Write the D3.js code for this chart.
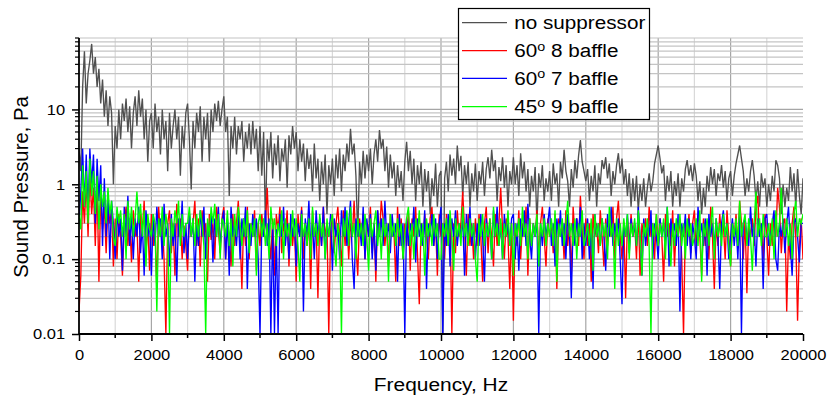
<!DOCTYPE html>
<html><head><meta charset="utf-8">
<script src="https://cdn.jsdelivr.net/npm/d3@7"></script>
<style>body{margin:0;background:#fff}svg{display:block}text{font-family:"Liberation Sans",Arial,sans-serif}</style>
</head><body><svg id="c" width="828" height="400"></svg>
<script>
const freqStep = 50; // Hz between samples
const seriesNames = ["no suppressor", "60° 8 baffle", "60° 7 baffle", "45° 9 baffle"];
const xTicks = [0,2000,4000,6000,8000,10000,12000,14000,16000,18000,20000];
const yTicks = [0.01,0.1,1,10];
const yTickLabels = ["0.01","0.1","1","10"];

const noSuppressor = [
3,1.5,20,60,12,30,45,75,30,50,20,35,12,25,8,18,6,15,9,1,
6,3,10,4,12,7,14,5,11,3,9,15,6,18,8,14,4,10,2,7,
9,3,12,5,8,2.5,10,4,7,1.5,9,3,6,10,4,8,1.3,6,3,9,
12,4,0.85,7,3,9,5,11,2,8,4,9,2,10,5,12,7,13,6,10,
15,5,8,0.7,6,3,8,2.5,6,4,7,2,5,3,6.5,2.5,7,3,5.5,1.5,
6,1.3,5,0.3,4,2,5,1.2,3.5,1.8,4.5,1.1,3,2,4,0.9,4.5,2.5,6,3,
5,1.5,4,2,3.5,1.1,3,1.6,2.5,0.8,3.5,1.2,2.2,0.6,2,1,2.5,0.4,1.8,1,
2.2,0.7,2.5,1.2,3,0.8,2.5,1.5,3.5,2,5.5,2.5,3.5,1.3,0.2,2,1,2.8,1.2,2.5,
1.5,3,1,2.5,4,2,5.3,3,4,1.5,3.2,0.9,2.5,1.2,2,0.7,1.8,0.9,1.5,0.6,
2,3.7,1.5,2.8,1,2.2,0.6,1.8,1,2,0.5,1.6,0.8,1.5,0.4,1.2,0.7,1.9,0.5,1.3,
1.5,0.01,1.2,2,0.8,2.5,1.3,2.2,1,3.3,1.5,2.4,0.7,1.8,1,2,0.5,1.4,0.8,1.9,
0.6,1.5,1,2,0.7,1.6,2.3,1.2,2.9,1.5,2.1,0.6,1.7,1.1,2.3,0.9,1.8,0.5,1.5,1,
2.3,1,1.8,0.7,2.6,1.2,2,0.8,1.6,0.5,1.3,0.8,1.7,0.3,1.4,0.9,1.8,0.6,1.2,0.8,
1.5,0.6,1.9,1,1.4,0.5,2,1.2,2.9,1.5,1.1,0.5,1.6,0.9,2.1,1.2,2.4,3.9,2,1.5,
1.1,1.6,0.6,1.3,0.8,1.8,0.5,1.4,1,2.1,1.6,2.3,1.2,1.9,0.7,1.5,1,1.8,2.6,1.4,
2.2,1,1.6,0.7,1.4,0.5,1.2,0.6,1.3,0.45,1,0.6,1.2,0.5,0.9,1.4,0.8,1.1,1.9,2.5,
3.3,2.2,1.4,1.8,0.6,1.3,0.8,1.5,0.5,1.1,0.7,1.4,0.5,1.2,0.8,1.6,2.1,1.3,1.8,1.1,
1.9,1.3,0.6,1.1,0.4,0.9,0.5,1.3,0.8,1.7,1,1.6,0.7,1.4,1.1,1.8,0.9,1.5,0.6,1.2,
1.5,0.7,1.3,1.9,2.5,3.3,2.2,1.5,0.7,1.2,0.8,1.5,2.1,1.3,0.6,1.1,0.5,1.4,0.9,1.2,
0.5,1,0.6,1.3,0.8,2.1,1.8,1.2,0.4,1,0.5,0.9,0.6,1.7,0.8,1.4,0.5,1.6,0.7,0.4,
1.2];

const baffle60x8 = [
0.02,0.06,0.8,0.3,1.2,0.2,1.5,0.4,0.9,0.15,1.1,0.05,0.7,0.25,0.5,0.12,0.6,0.3,0.45,0.08,
0.35,0.1,0.4,0.2,0.06,0.3,0.5,0.15,0.35,0.09,0.45,0.2,0.3,0.05,0.4,0.25,0.6,0.12,0.3,0.07,
0.4,0.15,0.3,0.04,0.5,0.2,0.35,0.1,0.01,0.3,0.45,0.12,0.3,0.06,0.55,0.2,0.35,0.1,0.28,0.15,
0.07,0.4,0.2,0.3,0.6,0.15,0.35,0.08,0.45,0.2,0.3,0.05,0.4,0.18,0.3,0.1,0.5,0.25,0.12,0.35,
0.5,0.1,0.3,0.2,0.08,0.4,0.15,0.3,0.6,0.2,0.04,0.35,0.15,0.5,0.1,0.3,0.2,0.45,0.07,0.3,
0.15,0.4,0.2,0.3,0.9,0.2,0.1,0.35,0.06,0.4,0.25,0.5,0.12,0.3,0.2,0.45,0.08,0.35,0.15,0.3,
0.05,0.4,0.2,0.5,0.1,0.3,0.15,0.35,0.04,0.45,0.2,0.3,0.03,0.35,0.15,0.5,0.2,0.3,0.01,0.25,
0.4,0.12,0.3,0.5,0.2,0.08,0.45,0.15,0.35,0.1,0.3,0.2,0.6,0.15,0.06,0.35,0.2,0.4,0.1,0.3,
0.2,0.5,0.12,0.3,0.05,0.45,0.2,0.6,0.35,0.15,0.3,0.08,0.4,0.2,0.25,0.05,0.5,0.15,0.35,0.1,
0.3,0.15,0.45,0.07,0.35,0.2,0.5,0.12,0.025,0.3,0.15,0.4,0.2,0.1,0.35,0.5,0.15,0.3,0.06,0.4,
0.2,0.3,0.1,0.4,0.15,0.35,0.01,0.3,0.12,0.45,0.2,0.3,0.8,0.25,0.06,0.4,0.15,0.3,0.1,0.35,
0.15,0.4,0.2,0.05,0.3,0.5,0.12,0.35,0.2,0.08,0.4,0.15,0.3,0.9,0.25,0.1,0.35,0.2,0.04,0.3,
0.015,0.3,0.15,0.45,0.1,0.3,0.2,0.5,0.06,0.35,0.15,0.3,0.2,0.45,0.1,0.3,0.5,0.2,0.08,0.35,
0.2,0.3,0.12,0.4,0.04,0.35,0.2,0.3,0.1,0.45,0.15,0.3,0.06,0.5,0.2,0.35,0.15,0.7,0.25,0.1,
0.35,0.15,0.3,0.05,0.4,0.2,0.3,0.12,0.45,0.2,0.08,0.35,0.15,0.3,0.2,0.5,0.1,0.35,0.6,0.2,
0.1,0.3,0.03,0.35,0.15,0.4,0.2,0.3,0.1,0.45,0.06,0.3,0.2,0.35,0.15,0.5,0.2,0.3,0.1,0.4,
0.15,0.35,0.2,0.05,0.4,0.2,0.3,0.15,0.45,0.08,0.3,0.2,0.35,0.1,0.01,0.3,0.2,0.4,0.12,0.3,
0.45,0.15,0.3,0.2,0.06,0.35,0.15,0.3,0.1,0.5,0.2,0.04,0.3,0.15,0.4,0.2,0.3,0.1,0.45,0.2,
0.08,0.3,0.2,0.4,0.15,0.6,0.3,0.1,0.35,0.035,0.3,0.2,0.35,0.15,0.5,0.7,0.2,0.3,0.1,0.4,
0.2,0.06,0.3,0.15,0.4,0.2,0.9,0.5,0.12,0.3,0.35,0.02,0.2,0.1,0.3,0.5,0.2,0.015,0.15,0.35,
0.1];

const baffle60x7 = [
0.3,0.8,3,0.5,2.5,0.4,3,1,2.5,0.3,2.2,0.6,1.8,0.15,1.2,0.2,0.8,0.1,0.6,0.3,
0.1,0.45,0.2,0.35,0.07,0.5,0.2,0.7,0.15,0.4,0.1,0.35,0.2,0.5,0.12,0.3,0.06,0.45,0.2,0.3,
0.06,0.4,0.15,0.5,0.2,0.35,0.1,0.55,0.2,0.3,0.08,0.4,0.15,0.3,0.05,0.35,0.2,0.6,0.12,0.3,
0.1,0.4,0.2,0.35,0.05,0.3,0.15,0.45,0.2,0.5,0.1,0.3,0.2,0.4,0.09,0.35,0.2,0.5,0.15,0.3,
0.45,0.1,0.35,0.06,0.5,0.2,0.3,0.15,0.4,0.1,0.35,0.2,0.5,0.04,0.3,0.15,0.4,0.2,0.35,0.1,
0.01,0.3,0.2,0.45,0.15,0.35,0.01,0.3,0.01,0.25,0.01,0.4,0.2,0.5,0.15,0.3,0.1,0.4,0.2,0.35,
0.08,0.3,0.2,0.45,0.02,0.35,0.2,0.6,0.15,0.3,0.1,0.45,0.2,0.35,0.15,0.5,0.1,0.3,0.2,0.4,
0.07,0.35,0.2,0.3,0.1,0.45,0.2,0.5,0.15,0.3,0.6,0.1,0.04,0.35,0.2,0.3,0.15,0.5,0.1,0.35,
0.2,0.4,0.1,0.3,0.07,0.45,0.2,0.35,0.15,0.6,0.2,0.3,0.12,0.4,0.2,0.3,0.05,0.4,0.15,0.3,
0.01,0.35,0.15,0.3,0.2,0.5,0.09,0.35,0.2,0.3,0.15,0.45,0.04,0.3,0.2,0.4,0.15,0.35,0.1,0.3,
0.5,0.01,0.3,0.15,0.4,0.08,0.35,0.2,0.45,0.15,0.3,0.2,0.35,0.06,0.4,0.2,0.5,0.15,0.3,0.1,
0.3,0.15,0.4,0.2,0.05,0.35,0.2,0.3,0.1,0.45,0.2,0.5,0.15,0.3,0.1,0.4,0.2,0.3,0.15,0.35,
0.4,0.1,0.3,0.07,0.35,0.2,0.45,0.15,0.55,0.2,0.1,0.3,0.2,0.35,0.01,0.3,0.15,0.4,0.2,0.3,
0.5,0.15,0.3,0.08,0.35,0.2,0.45,0.15,0.3,0.1,0.4,0.2,0.03,0.3,0.15,0.35,0.2,0.5,0.1,0.3,
0.15,0.35,0.1,0.3,0.04,0.4,0.2,0.3,0.15,0.35,0.2,0.07,0.4,0.2,0.5,0.15,0.3,0.2,0.35,0.1,
0.025,0.3,0.2,0.4,0.12,0.35,0.2,0.3,0.15,0.5,0.2,0.06,0.35,0.15,0.3,0.2,0.45,0.1,0.3,0.2,
0.1,0.35,0.2,0.3,0.15,0.5,0.08,0.35,0.2,0.3,0.15,0.4,0.02,0.3,0.2,0.4,0.15,0.35,0.1,0.3,
0.2,0.1,0.5,0.2,0.3,0.15,0.35,0.06,0.4,0.2,0.3,0.15,0.35,0.2,0.04,0.3,0.45,0.2,0.3,0.1,
0.2,0.35,0.15,0.3,0.1,0.4,0.01,0.3,0.35,0.2,0.15,0.5,0.2,0.3,0.08,0.35,0.2,0.3,0.04,0.35,
0.4,0.15,0.2,0.3,0.45,0.1,0.07,0.3,0.2,0.35,0.12,0.3,0.5,0.15,0.06,0.3,0.35,0.2,0.09,0.3,
0.3];

const baffle45x9 = [
0.4,0.25,1.8,0.5,1.5,0.3,2.2,0.7,1.5,0.4,1.3,0.25,1,0.5,0.8,0.3,0.9,0.4,0.6,0.2,
0.15,0.5,0.3,0.45,0.2,0.4,0.1,0.6,0.25,0.5,0.2,0.35,0.8,0.3,0.55,0.2,0.45,0.08,0.4,0.25,
0.2,0.4,0.3,0.02,0.35,0.2,0.5,0.15,0.4,0.25,0.01,0.35,0.2,0.45,0.3,0.6,0.15,0.4,0.2,0.3,
0.3,0.5,0.2,0.35,0.15,0.4,0.2,0.45,0.3,0.15,0.01,0.35,0.2,0.5,0.3,0.55,0.2,0.4,0.1,0.35,
0.3,0.2,0.45,0.15,0.35,0.08,0.4,0.2,0.5,0.3,0.15,0.35,0.2,0.45,0.12,0.3,0.2,0.35,0.06,0.3,
0.4,0.2,0.35,0.15,0.3,0.1,0.5,0.25,0.35,0.15,0.3,0.2,0.45,0.1,0.35,0.2,0.3,0.15,0.45,0.2,
0.35,0.15,0.05,0.4,0.2,0.3,0.15,0.35,0.1,0.5,0.2,0.3,0.15,0.4,0.2,0.3,0.1,0.35,0.2,0.3,
0.4,0.15,0.08,0.3,0.2,0.01,0.35,0.2,0.45,0.15,0.5,0.2,0.3,0.1,0.35,0.2,0.3,0.15,0.4,0.2,
0.07,0.35,0.2,0.3,0.45,0.15,0.3,0.1,0.35,0.2,0.3,0.05,0.4,0.2,0.3,0.15,0.35,0.2,0.3,0.1,
0.2,0.35,0.5,0.15,0.3,0.1,0.35,0.2,0.45,0.15,0.3,0.06,0.35,0.2,0.3,0.15,0.4,0.2,0.3,0.1,
0.1,0.3,0.2,0.35,0.15,0.45,0.2,0.07,0.35,0.2,0.3,0.15,0.5,0.2,0.3,0.15,0.35,0.2,0.3,0.1,
0.05,0.35,0.2,0.4,0.15,0.3,0.2,0.35,0.1,0.5,0.2,0.3,0.15,0.35,0.1,0.3,0.2,0.45,0.15,0.3,
0.06,0.3,0.2,0.35,0.15,0.5,0.2,0.3,0.1,0.35,0.15,0.3,0.2,0.4,0.08,0.3,0.2,0.35,0.15,0.3,
0.2,0.35,0.15,0.45,0.05,0.3,0.2,0.35,0.15,0.3,0.6,0.2,0.3,0.15,0.35,0.1,0.3,0.2,0.45,0.15,
0.2,0.3,0.15,0.35,0.07,0.4,0.2,0.3,0.15,0.35,0.2,0.3,0.1,0.5,0.2,0.3,0.04,0.35,0.15,0.3,
0.15,0.35,0.2,0.4,0.1,0.3,0.2,0.35,0.15,0.45,0.2,0.06,0.3,0.2,0.35,0.15,0.01,0.3,0.2,0.4,
0.15,0.3,0.2,0.35,0.1,0.5,0.2,0.08,0.3,0.15,0.35,0.2,0.4,0.15,0.3,0.1,0.35,0.2,0.3,0.15,
0.2,0.35,0.15,0.45,0.05,0.3,0.2,0.35,0.15,0.3,0.5,0.1,0.35,0.2,0.3,0.15,0.4,0.2,0.3,0.15,
0.08,0.3,0.2,0.35,0.15,0.6,0.2,0.3,0.4,0.15,0.35,0.2,0.07,0.3,0.8,0.2,0.35,0.15,0.4,0.2,
0.2,0.3,0.15,0.35,0.1,0.45,0.2,0.3,0.9,0.25,0.2,0.35,0.15,0.3,0.1,0.4,0.6,0.2,0.35,0.3,
0.4];

const seriesData = [noSuppressor, baffle60x8, baffle60x7, baffle45x9];
const colors = ["#505050", "#ff0000", "#0000ff", "#00ff00"];
const SX = 1.1; // horizontal text stretch seen in the reference

const svg = d3.select("#c");
const L = 79, R = 803, T = 38, B = 334;
const x = d3.scaleLinear().domain([0, 20000]).range([L, R]);
const y = d3.scaleLog().domain([0.01, 90]).range([B, T]);

// grid
const minorX = d3.range(1000, 20000, 2000);
const minorY = [];
[0.01,0.1,1,10].forEach(d => { for (let k = 2; k <= 9; k++) { const v = d*k; if (v <= 90.0001) minorY.push(v); } });
const g = svg.append("g");
g.selectAll(".gmx").data(minorX).join("line").attr("x1", d=>x(d)).attr("x2", d=>x(d)).attr("y1", T).attr("y2", B).attr("stroke", "#d9d9d9").attr("stroke-width", 1.2);
g.selectAll(".gMx").data(xTicks.slice(1, -1)).join("line").attr("x1", d=>x(d)).attr("x2", d=>x(d)).attr("y1", T).attr("y2", B).attr("stroke", "#a6a6a6").attr("stroke-width", 1.2);
g.selectAll(".gmy").data(minorY).join("line").attr("x1", L).attr("x2", R).attr("y1", d=>y(d)).attr("y2", d=>y(d)).attr("stroke", "#c4c4c4").attr("stroke-width", 1.2);
g.selectAll(".gMy").data(yTicks.slice(1)).join("line").attr("x1", L).attr("x2", R).attr("y1", d=>y(d)).attr("y2", d=>y(d)).attr("stroke", "#a6a6a6").attr("stroke-width", 1.2);

svg.append("clipPath").attr("id", "clip").append("rect").attr("x", L).attr("y", T - 2).attr("width", R - L).attr("height", B - T + 2);

const line = d3.line().x((d, i) => x(i * freqStep)).y(d => y(d));
const plot = svg.append("g").attr("clip-path", "url(#clip)");
seriesData.forEach((s, k) => {
  plot.append("path").datum(s).attr("d", line).attr("fill", "none").attr("stroke", colors[k]).attr("stroke-width", 1.35);
});

// axes
const xAxis = d3.axisBottom(x).tickValues(xTicks).tickFormat(d3.format("d")).tickSize(7).tickPadding(8);
const gx = svg.append("g").attr("transform", `translate(0,${B})`).call(xAxis);
gx.append("g").selectAll("line").data(minorX).join("line").attr("x1", d=>x(d)).attr("x2", d=>x(d)).attr("y1", 0).attr("y2", 4).attr("stroke", "#000").attr("stroke-width", 1.5);
const yAxis = d3.axisLeft(y).tickValues(yTicks).tickFormat((d, i) => yTickLabels[i]).tickSize(7).tickPadding(6);
const gy = svg.append("g").attr("transform", `translate(${L},0)`).call(yAxis);
gy.append("g").selectAll("line").data(minorY).join("line").attr("x1", 0).attr("x2", -4).attr("y1", d=>y(d)).attr("y2", d=>y(d)).attr("stroke", "#000").attr("stroke-width", 1.2);
[gx, gy].forEach(a => {
  a.select(".domain").attr("stroke", "#000").attr("stroke-width", 1.8);
  a.selectAll(".tick line").attr("stroke", "#000").attr("stroke-width", 1.5);
  a.selectAll(".tick text").attr("fill", "#000").style("font-size", "15px").style("font-family", "'Liberation Sans', Arial, sans-serif").attr("transform", `scale(${SX},1)`);
});
gy.selectAll(".tick text").attr("x", -13.8 / SX);
gx.select(".domain").attr("d", `M${L},0H${R}`);
gy.select(".domain").attr("d", `M0,${T}V${B}`);

svg.append("text").attr("transform", `translate(441,391) scale(${SX},1)`).attr("text-anchor", "middle").style("font-size", "19px").text("Frequency, Hz");
svg.append("text").attr("transform", `translate(27.5,187) rotate(-90)`).attr("text-anchor", "middle").style("font-size", "20.3px").text("Sound Pressure, Pa");

// legend
const lg = svg.append("g");
lg.append("rect").attr("x", 458.5).attr("y", 8.5).attr("width", 191).attr("height", 111).attr("fill", "#fff").attr("stroke", "#000").attr("stroke-width", 1.2);
const rowsY = [22.7, 50.7, 78.3, 106.7];
seriesNames.forEach((n, k) => {
  lg.append("line").attr("x1", 462).attr("x2", 507).attr("y1", rowsY[k]).attr("y2", rowsY[k]).attr("stroke", colors[k]).attr("stroke-width", 1.2);
  const t = lg.append("text").attr("transform", `translate(514.3,${rowsY[k] + 6.6}) scale(${SX},1)`).style("font-size", "18.8px").attr("fill", "#000");
  const parts = n.split("°");
  if (parts.length === 2) {
    t.append("tspan").text(parts[0]);
    t.append("tspan").attr("dy", -6.6).style("font-size", "13px").text("o");
    t.append("tspan").attr("dy", 6.6).text(parts[1]);
  } else {
    t.text(n);
  }
});
</script>
</body></html>
